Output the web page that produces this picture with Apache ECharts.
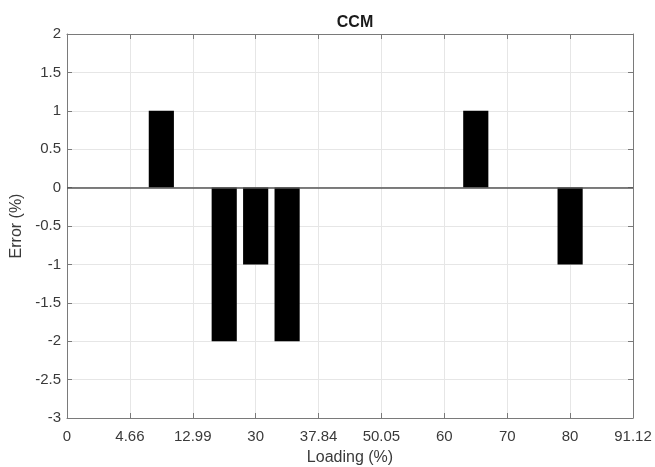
<!DOCTYPE html>
<html>
<head>
<meta charset="utf-8">
<script src="https://cdn.jsdelivr.net/npm/echarts@6/dist/echarts.min.js"></script>
<style>
html,body{margin:0;padding:0;background:#fff;}
#chart{width:655px;height:467px;}
</style>
</head>
<body>
<div id="chart"></div>
<script>
// Bar positions (in tick-index units) and error values
const barPositions = [1.5, 2.5, 3, 3.5, 6.5, 8];
const errorValues = [1, -2, -1, -2, 1, -1];
// X tick labels (evenly spaced ticks at index 0..9)
const xTickLabels = ['0', '4.66', '12.99', '30', '37.84', '50.05', '60', '70', '80', '91.12'];
const titleText = 'CCM';
const xName = 'Loading (%)';
const yName = 'Error (%)';

const FONT = '"Liberation Sans", Arial, Helvetica, sans-serif';
const axisColor = '#7a7a7a';
const textColor = '#3a3a3a';
const gridColor = '#e6e6e6';

const chart = echarts.init(document.getElementById('chart'), null, {renderer: 'canvas'});
const barData = barPositions.map((x, i) => [x, errorValues[i]]);

const tickFmt = v => {
  const i = Math.round(v);
  return Math.abs(v - i) < 1e-6 ? (xTickLabels[i] ?? '') : '';
};

chart.setOption({
  animation: false,
  backgroundColor: '#fff',
  title: {
    text: titleText, left: 350, top: 10, textAlign: 'center',
    textStyle: {fontFamily: FONT, fontSize: 16, fontWeight: 'bold', color: '#1a1a1a'}
  },
  grid: {left: 67, right: 22, top: 34, bottom: 49, containLabel: false, outerBoundsMode: 'none'},
  xAxis: [{
    type: 'value', min: 0, max: 9, interval: 1, position: 'bottom',
    name: xName, nameLocation: 'middle', nameGap: 32,
    nameTextStyle: {fontFamily: FONT, fontSize: 16, color: textColor},
    axisLine: {show: true, onZero: false, lineStyle: {color: axisColor, width: 1}},
    axisTick: {show: true, inside: true, length: 5, lineStyle: {color: axisColor}},
    axisLabel: {formatter: tickFmt, fontFamily: FONT, fontSize: 15, color: textColor, margin: 11},
    splitLine: {show: true, lineStyle: {color: gridColor, width: 1}}
  }, {
    type: 'value', min: 0, max: 9, interval: 1, position: 'top',
    axisLine: {show: true, onZero: false, lineStyle: {color: axisColor, width: 1}},
    axisTick: {show: true, inside: true, length: 5, lineStyle: {color: axisColor}},
    axisLabel: {show: false}, splitLine: {show: false}
  }],
  yAxis: [{
    type: 'value', min: -3, max: 2, interval: 0.5, position: 'left',
    name: yName, nameLocation: 'middle', nameGap: 34, nameRotate: 90,
    nameTextStyle: {fontFamily: FONT, fontSize: 16, color: textColor},
    axisLine: {show: true, onZero: false, lineStyle: {color: axisColor, width: 1}},
    axisTick: {show: true, inside: true, length: 5, lineStyle: {color: axisColor}},
    axisLabel: {fontFamily: FONT, fontSize: 15, color: textColor, margin: 6},
    splitLine: {show: true, lineStyle: {color: gridColor, width: 1}}
  }, {
    type: 'value', min: -3, max: 2, interval: 0.5, position: 'right',
    axisLine: {show: true, onZero: false, lineStyle: {color: axisColor, width: 1}},
    axisTick: {show: true, inside: true, length: 5, lineStyle: {color: axisColor}},
    axisLabel: {show: false}, splitLine: {show: false}
  }],
  series: [{
    type: 'bar', xAxisIndex: 0, yAxisIndex: 0,
    data: barData, barWidth: '80%',
    itemStyle: {color: '#000', borderColor: '#000', borderWidth: 0},
    markLine: {
      silent: true, symbol: 'none', label: {show: false},
      lineStyle: {color: '#555', width: 1.5, type: 'solid'},
      data: [{yAxis: 0}]
    }
  }]
});
</script>
</body>
</html>
